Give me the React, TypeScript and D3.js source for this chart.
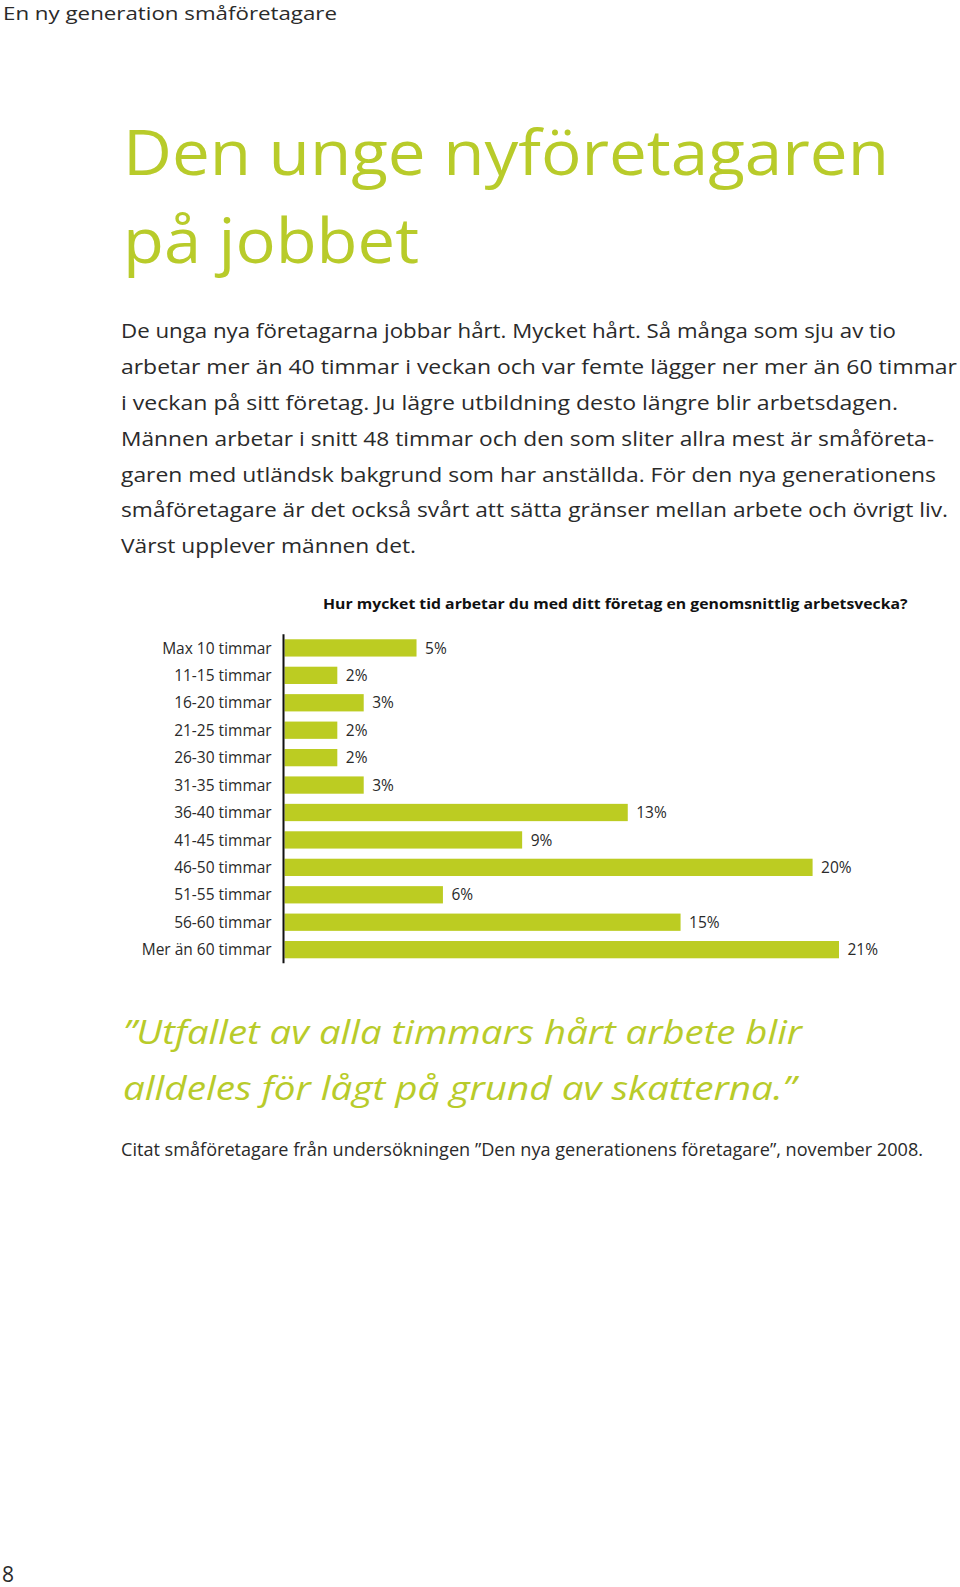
import React from "react";
import * as d3 from "d3";

const categories = [
  "Max 10 timmar",
  "11-15 timmar",
  "16-20 timmar",
  "21-25 timmar",
  "26-30 timmar",
  "31-35 timmar",
  "36-40 timmar",
  "41-45 timmar",
  "46-50 timmar",
  "51-55 timmar",
  "56-60 timmar",
  "Mer än 60 timmar",
];
const values = [5, 2, 3, 2, 2, 3, 13, 9, 20, 6, 15, 21];

const headerText = "En ny generation småföretagare";
const titleLines = ["Den unge nyföretagaren", "på jobbet"];
const bodyLines = [
  "De unga nya företagarna jobbar hårt. Mycket hårt. Så många som sju av tio",
  "arbetar mer än 40 timmar i veckan och var femte lägger ner mer än 60 timmar",
  "i veckan på sitt företag. Ju lägre utbildning desto längre blir arbetsdagen.",
  "Männen arbetar i snitt 48 timmar och den som sliter allra mest är småföreta-",
  "garen med utländsk bakgrund som har anställda. För den nya generationens",
  "småföretagare är det också svårt att sätta gränser mellan arbete och övrigt liv.",
  "Värst upplever männen det.",
];
const bodyWidths = [775, 836, 777, 813, 815, 827, 295];
const chartTitle = "Hur mycket tid arbetar du med ditt företag en genomsnittlig arbetsvecka?";
const quoteLines = [
  "”Utfallet av alla timmars hårt arbete blir",
  "alldeles för lågt på grund av skatterna.”",
];
const quoteWidths = [679, 673];
const citation =
  "Citat småföretagare från undersökningen ”Den nya generationens företagare”, november 2008.";
const pageNumber = "8";

const GREEN = "#bccc22";
const TITLE_GREEN = "#b8cb2a";
const TEXT = "#2a2a2a";
const FONT = "'Open Sans', 'Noto Sans', sans-serif";

export default function App() {
  const axisX = 283.5;
  const x = d3.scaleLinear().domain([0, 21]).range([axisX + 1, 839]);
  const step = 27.43;
  const top = 634.2;
  const y = d3
    .scaleBand<string>()
    .domain(categories)
    .range([top, top + categories.length * step])
    .paddingInner(0.37)
    .paddingOuter(0.185);
  const bw = y.bandwidth();

  return (
    <svg
      width={960}
      height={1587}
      style={{ position: "absolute", left: 0, top: 0, display: "block", background: "#fff" }}
      fontFamily={FONT}
    >
      <rect x={0} y={0} width={960} height={1587} fill="#fff" />
      <text x={3} y={19.5} fontSize={18.5} fill={TEXT} textLength={334} lengthAdjust="spacingAndGlyphs">
        {headerText}
      </text>

      {titleLines.map((t, i) => (
        <text
          key={t}
          x={123}
          y={175 + i * 88}
          fontSize={62}
          fill={TITLE_GREEN}
          textLength={i === 0 ? 766 : 296}
          lengthAdjust="spacingAndGlyphs"
        >
          {t}
        </text>
      ))}

      {bodyLines.map((t, i) => (
        <text
          key={i}
          x={121}
          y={338.3 + i * 35.8}
          fontSize={20}
          fill={TEXT}
          textLength={bodyWidths[i]}
          lengthAdjust="spacingAndGlyphs"
        >
          {t}
        </text>
      ))}

      <text
        x={323}
        y={609.3}
        fontSize={15}
        fontWeight="bold"
        fill="#111"
        textLength={584.5}
        lengthAdjust="spacingAndGlyphs"
      >
        {chartTitle}
      </text>

      {categories.map((c, i) => {
        const yy = y(c)!;
        return (
          <g key={c}>
            <rect x={x(0)} y={yy} width={x(values[i]) - x(0)} height={bw} fill={GREEN} />
            <text x={271.7} y={yy + bw / 2 + 5.6} fontSize={15.5} fill={TEXT} textAnchor="end">
              {c}
            </text>
            <text x={x(values[i]) + 8.5} y={yy + bw / 2 + 5.6} fontSize={15.5} fill={TEXT}>
              {values[i]}%
            </text>
          </g>
        );
      })}
      <line x1={axisX} x2={axisX} y1={634.3} y2={963.3} stroke="#111" strokeWidth={2} />

      {quoteLines.map((t, i) => (
        <text
          key={i}
          x={123}
          y={1044.3 + i * 55.7}
          fontSize={32}
          fontStyle="italic"
          fill={TITLE_GREEN}
          textLength={quoteWidths[i]}
          lengthAdjust="spacingAndGlyphs"
        >
          {t}
        </text>
      ))}

      <text x={121} y={1156} fontSize={18.7} fill={TEXT} textLength={802} lengthAdjust="spacingAndGlyphs">
        {citation}
      </text>

      <text x={2} y={1582} fontSize={21} fill={TEXT}>
        {pageNumber}
      </text>
    </svg>
  );
}
